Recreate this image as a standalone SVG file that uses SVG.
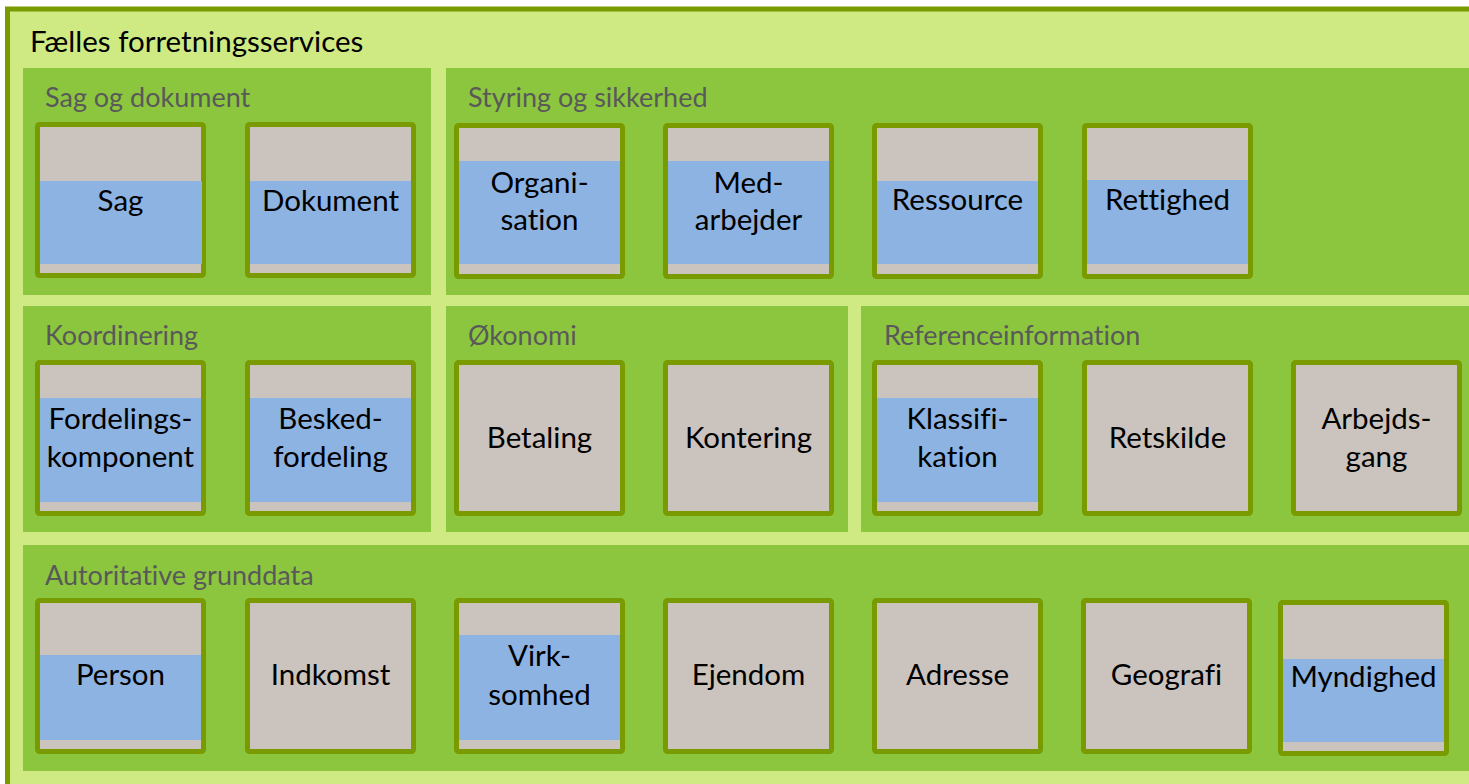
<svg xmlns="http://www.w3.org/2000/svg" width="1469" height="784" viewBox="0 0 1469 784">
<style>
.frame{fill:#CFE983;stroke:#7A9B00;stroke-width:5}
.sec{fill:#8CC63F}
.box{fill:#CBC3BD;stroke:#7A9B00;stroke-width:5}
.blue{fill:#8DB3E2}
text{font-variant-ligatures:none}
.title{font-family:Lato,"Liberation Sans",sans-serif;font-size:29.5px;fill:#000}
.stitle{font-family:Lato,"Liberation Sans",sans-serif;font-size:27px;fill:#595959}
.lbl{font-family:Lato,"Liberation Sans",sans-serif;font-size:29.5px;fill:#000;text-anchor:middle}
</style>
<rect width="1469" height="784" fill="#ffffff"/>
<g id="frame">
<rect class="frame" x="7.5" y="9" width="1500" height="800"/>
<text class="title" x="30" y="52">Fælles forretningsservices</text>
</g>
<g id="sections">
<g id="sec-sag"><rect class="sec" x="23" y="68" width="408" height="227"/><text class="stitle" x="45" y="107">Sag og dokument</text></g>
<g id="sec-styring"><rect class="sec" x="446" y="68" width="1030" height="227"/><text class="stitle" x="468" y="107">Styring og sikkerhed</text></g>
<g id="sec-koord"><rect class="sec" x="23" y="306" width="408" height="226"/><text class="stitle" x="45" y="345">Koordinering</text></g>
<g id="sec-oko"><rect class="sec" x="446" y="306" width="402" height="226"/><text class="stitle" x="468" y="345">Økonomi</text></g>
<g id="sec-ref"><rect class="sec" x="861" y="306" width="615" height="226"/><text class="stitle" x="884" y="345">Referenceinformation</text></g>
<g id="sec-auto"><rect class="sec" x="23" y="545" width="1453" height="226"/><text class="stitle" x="45" y="585">Autoritative grunddata</text></g>
</g>
<g id="n-sag"><rect class="box" x="37.5" y="124.5" width="166" height="151" rx="2"/><rect class="blue" x="40" y="181" width="162" height="83"/><text class="lbl" x="120.5" y="211">Sag</text></g>
<g id="n-dokument"><rect class="box" x="247.5" y="124.5" width="166" height="151" rx="2"/><rect class="blue" x="250" y="181" width="161" height="83"/><text class="lbl" x="330.5" y="211">Dokument</text></g>
<g id="n-organisation"><rect class="box" x="456.5" y="125.5" width="166" height="151" rx="2"/><rect class="blue" x="459" y="161" width="161" height="103"/><text class="lbl" x="539.5" y="193">Organi-</text><text class="lbl" x="539.5" y="230">sation</text></g>
<g id="n-medarbejder"><rect class="box" x="665.5" y="125.5" width="166" height="151" rx="2"/><rect class="blue" x="668" y="161" width="161" height="103"/><text class="lbl" x="748.5" y="193">Med-</text><text class="lbl" x="748.5" y="230">arbejder</text></g>
<g id="n-ressource"><rect class="box" x="874.5" y="125.5" width="166" height="151" rx="2"/><rect class="blue" x="877" y="181" width="161" height="83"/><text class="lbl" x="957.5" y="210">Ressource</text></g>
<g id="n-rettighed"><rect class="box" x="1084.5" y="125.5" width="166" height="151" rx="2"/><rect class="blue" x="1087" y="180" width="161" height="84"/><text class="lbl" x="1167.5" y="210">Rettighed</text></g>
<g id="n-fordelingskomponent"><rect class="box" x="37.5" y="362.5" width="166" height="151" rx="2"/><rect class="blue" x="40" y="398" width="161" height="104"/><text class="lbl" x="120.5" y="429">Fordelings-</text><text class="lbl" x="120.5" y="467">komponent</text></g>
<g id="n-beskedfordeling"><rect class="box" x="247.5" y="362.5" width="166" height="151" rx="2"/><rect class="blue" x="250" y="398" width="161" height="104"/><text class="lbl" x="330.5" y="429">Besked-</text><text class="lbl" x="330.5" y="467">fordeling</text></g>
<g id="n-betaling"><rect class="box" x="456.5" y="362.5" width="166" height="151" rx="2"/><text class="lbl" x="539.5" y="448">Betaling</text></g>
<g id="n-kontering"><rect class="box" x="665.5" y="362.5" width="166" height="151" rx="2"/><text class="lbl" x="748.5" y="448">Kontering</text></g>
<g id="n-klassifikation"><rect class="box" x="874.5" y="362.5" width="166" height="151" rx="2"/><rect class="blue" x="877" y="398" width="161" height="104"/><text class="lbl" x="957.5" y="429">Klassifi-</text><text class="lbl" x="957.5" y="467">kation</text></g>
<g id="n-retskilde"><rect class="box" x="1084.5" y="362.5" width="166" height="151" rx="2"/><text class="lbl" x="1167.5" y="448">Retskilde</text></g>
<g id="n-arbejdsgang"><rect class="box" x="1293.5" y="362.5" width="166" height="151" rx="2"/><text class="lbl" x="1376.5" y="429">Arbejds-</text><text class="lbl" x="1376.5" y="467">gang</text></g>
<g id="n-person"><rect class="box" x="37.5" y="600.5" width="166" height="151" rx="2"/><rect class="blue" x="40" y="655" width="161" height="85"/><text class="lbl" x="120.5" y="685">Person</text></g>
<g id="n-indkomst"><rect class="box" x="247.5" y="600.5" width="166" height="151" rx="2"/><text class="lbl" x="330.5" y="685">Indkomst</text></g>
<g id="n-virksomhed"><rect class="box" x="456.5" y="600.5" width="166" height="151" rx="2"/><rect class="blue" x="459" y="635" width="161" height="105"/><text class="lbl" x="539.5" y="666">Virk-</text><text class="lbl" x="539.5" y="705">somhed</text></g>
<g id="n-ejendom"><rect class="box" x="665.5" y="600.5" width="166" height="151" rx="2"/><text class="lbl" x="748.5" y="685">Ejendom</text></g>
<g id="n-adresse"><rect class="box" x="874.5" y="600.5" width="166" height="151" rx="2"/><text class="lbl" x="957.5" y="685">Adresse</text></g>
<g id="n-geografi"><rect class="box" x="1083.5" y="600.5" width="166" height="151" rx="2"/><text class="lbl" x="1166.5" y="685">Geografi</text></g>
<g id="n-myndighed"><rect class="box" x="1280.5" y="602.5" width="166" height="151" rx="2"/><rect class="blue" x="1283" y="659" width="161" height="83"/><text class="lbl" x="1363.5" y="687">Myndighed</text></g>
<g id="connectors"/>
</svg>
